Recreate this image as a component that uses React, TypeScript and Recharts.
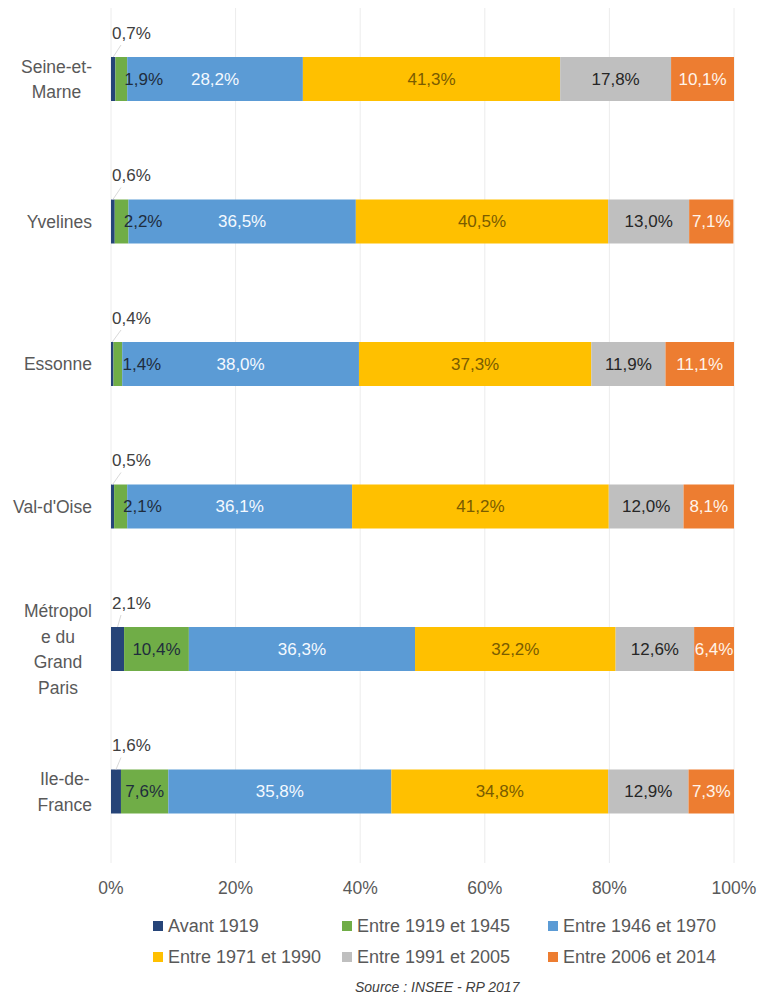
import React from "react";
import { BarChart, Bar, XAxis, YAxis, CartesianGrid, LabelList, Legend } from "recharts";

const categories = ["Seine-et-Marne", "Yvelines", "Essonne", "Val-d'Oise", "Métropole du Grand Paris", "Ile-de-France"];
const categoryLines = [["Seine-et-", "Marne"], ["Yvelines"], ["Essonne"], ["Val-d'Oise"], ["Métropol", "e du", "Grand", "Paris"], ["Ile-de-", "France"]];

const avant1919 = [0.7, 0.6, 0.4, 0.5, 2.1, 1.6];
const entre1919_1945 = [1.9, 2.2, 1.4, 2.1, 10.4, 7.6];
const entre1946_1970 = [28.2, 36.5, 38.0, 36.1, 36.3, 35.8];
const entre1971_1990 = [41.3, 40.5, 37.3, 41.2, 32.2, 34.8];
const entre1991_2005 = [17.8, 13.0, 11.9, 12.0, 12.6, 12.9];
const entre2006_2014 = [10.1, 7.1, 11.1, 8.1, 6.4, 7.3];

const seriesNames = ["Avant 1919", "Entre 1919 et 1945", "Entre 1946 et 1970", "Entre 1971 et 1990", "Entre 1991 et 2005", "Entre 2006 et 2014"];
const seriesValues = [avant1919, entre1919_1945, entre1946_1970, entre1971_1990, entre1991_2005, entre2006_2014];
const xTicks = [0, 20, 40, 60, 80, 100];
const sourceText = "Source : INSEE - RP 2017";

const colors = ["#264478", "#70AD47", "#5B9BD5", "#FFC000", "#BFBFBF", "#ED7D31"];
const labelColors = ["#404040", "#1f2d3d", "#f4f9ff", "#7a5c00", "#262626", "#fff4ea"];
const FONT = "'Liberation Sans', Arial, sans-serif";

const data = categories.map((c, i) => {
  const row: any = { name: c };
  seriesValues.forEach((arr, s) => {
    row["s" + s] = arr[i];
  });
  return row;
});

const fmt = (v: number) => v.toFixed(1).replace(".", ",") + "%";

let ctx: any = null;
function measure(text: string, size: number) {
  if (!ctx && typeof document !== "undefined") {
    ctx = document.createElement("canvas").getContext("2d");
  }
  if (!ctx) return text.length * size * 0.5;
  ctx.font = `${size}px 'Liberation Sans', Arial, sans-serif`;
  return ctx.measureText(text).width;
}

const CatTick = (props: any) => {
  const { y, payload } = props;
  const idx = categories.indexOf(payload.value);
  const lines = categoryLines[idx] || [payload.value];
  const size = 17.5;
  const lh = 25.5;
  const blockW = Math.max(...lines.map((l) => measure(l, size)));
  const cx = 92 - blockW / 2;
  const startY = y - ((lines.length - 1) * lh) / 2;
  return (
    <g>
      {lines.map((l, i) => (
        <text key={i} x={cx} y={startY + i * lh} textAnchor="middle" dominantBaseline="central" fontSize={size} fill="#595959" fontFamily={FONT}>
          {l}
        </text>
      ))}
    </g>
  );
};

const makeLabel = (s: number) => (props: any) => {
  const { x, y, width, height, value } = props;
  if (value == null) return null;
  const text = fmt(Number(value));
  if (s === 0) {
    return (
      <g>
        <line x1={x + width / 2} y1={y} x2={x + 10} y2={y - 12} stroke="#d9d9d9" strokeWidth={1} />
        <text x={x + 1} y={y - 24} dominantBaseline="central" fontSize={17} fill={labelColors[s]} fontFamily={FONT}>
          {text}
        </text>
      </g>
    );
  }
  if (s === 1 && width < 30) {
    return (
      <text x={x + 9} y={y + height / 2} dominantBaseline="central" fontSize={17} fill={labelColors[s]} fontFamily={FONT}>
        {text}
      </text>
    );
  }
  return (
    <text x={x + width / 2} y={y + height / 2} textAnchor="middle" dominantBaseline="central" fontSize={17} fill={labelColors[s]} fontFamily={FONT}>
      {text}
    </text>
  );
};

const colX = [153, 342, 548];

const LegendContent = () => (
  <div style={{ position: "relative", width: 757, height: 85, fontFamily: FONT }}>
    {seriesNames.map((n, i) => {
      const row = Math.floor(i / 3);
      const col = i % 3;
      return (
        <div key={n} style={{ position: "absolute", left: colX[col], top: row * 31, height: 24, display: "flex", alignItems: "center", whiteSpace: "nowrap" }}>
          <span style={{ display: "inline-block", width: 10, height: 10, background: colors[i], marginRight: 5 }} />
          <span style={{ fontSize: 18, color: "#595959", lineHeight: "24px" }}>{n}</span>
        </div>
      );
    })}
    <div style={{ position: "absolute", left: 355, width: 150, top: 64, textAlign: "center", fontSize: 14, fontStyle: "italic", color: "#404040", lineHeight: "18px", whiteSpace: "nowrap" }}>
      {sourceText}
    </div>
  </div>
);

export default function App() {
  return (
    <div style={{ position: "absolute", left: 0, top: 0, width: 757, height: 994, background: "#fff" }}>
      <BarChart width={757} height={994} data={data} layout="vertical" margin={{ top: 8, right: 23, left: 0, bottom: 91 }} barCategoryGap={0}>
        <CartesianGrid horizontal={false} vertical={true} stroke="#ececec" />
        <XAxis
          type="number"
          domain={[0, 100]}
          allowDataOverflow
          ticks={xTicks}
          tickFormatter={(v: number) => `${v}%`}
          axisLine={false}
          tickLine={false}
          tickSize={0}
          tickMargin={19}
          height={40}
          tick={{ fontSize: 17.5, fill: "#595959", fontFamily: FONT }}
          interval={0}
        />
        <YAxis type="category" dataKey="name" width={111} axisLine={false} tickLine={false} tick={<CatTick />} interval={0} />
        <Legend layout="horizontal" verticalAlign="middle" align="center" content={<LegendContent />} wrapperStyle={{ top: 914, left: 0, width: 757, height: 85 }} />
        {seriesNames.map((n, s) => (
          <Bar key={n} dataKey={"s" + s} name={n} stackId="a" fill={colors[s]} barSize={44} isAnimationActive={false}>
            <LabelList dataKey={"s" + s} content={makeLabel(s)} />
          </Bar>
        ))}
      </BarChart>
    </div>
  );
}
